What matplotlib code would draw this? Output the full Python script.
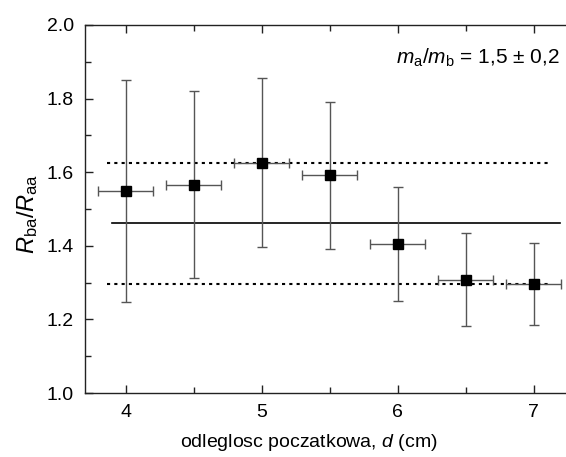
import matplotlib
matplotlib.use("Agg")
import matplotlib.pyplot as plt
from matplotlib.ticker import MultipleLocator

plt.rcParams['font.family'] = ['Liberation Sans', 'DejaVu Sans']
plt.rcParams['mathtext.fontset'] = 'custom'
plt.rcParams['mathtext.rm'] = 'Liberation Sans'
plt.rcParams['mathtext.it'] = 'Liberation Sans:italic'

# data
d = [4.0, 4.5, 5.0, 5.5, 6.0, 6.5, 7.0]
ratio = [1.548, 1.565, 1.626, 1.592, 1.405, 1.308, 1.296]
err_up = [1.850, 1.820, 1.855, 1.791, 1.561, 1.434, 1.408]
err_lo = [1.247, 1.312, 1.397, 1.392, 1.249, 1.183, 1.184]
d_err = [0.2, 0.2, 0.2, 0.2, 0.2, 0.2, 0.2]
mean_val = 1.461
band_hi = 1.624
band_lo = 1.297
mean_x = [3.90, 7.19]
band_x = [3.86, 7.12]

fig = plt.figure(figsize=(5.66, 4.57), dpi=100)
ax = fig.add_axes([0.150, 0.140, 0.865, 0.8053])

yerr = [[r - lo for r, lo in zip(ratio, err_lo)], [up - r for r, up in zip(ratio, err_up)]]
ax.plot(mean_x, [mean_val, mean_val], color='black', lw=1.2, zorder=1)
ax.plot(band_x, [band_hi, band_hi], color='black', lw=1.5, ls=(0, (1.5, 2.0)), zorder=1)
ax.plot(band_x, [band_lo, band_lo], color='black', lw=1.5, ls=(0, (1.5, 2.0)), zorder=1)
ax.errorbar(d, ratio, yerr=yerr, xerr=d_err, fmt='s', color='black', ms=7.5,
            ecolor='#555555', elinewidth=1.0, capsize=3.5, capthick=1.0, zorder=3)

ax.set_xlim(3.7, 7.3)
ax.set_ylim(1.0, 2.0)
ax.xaxis.set_major_locator(MultipleLocator(1))
ax.xaxis.set_minor_locator(MultipleLocator(0.5))
ax.yaxis.set_major_locator(MultipleLocator(0.2))
ax.yaxis.set_minor_locator(MultipleLocator(0.1))
ax.yaxis.set_major_formatter(matplotlib.ticker.FormatStrFormatter('%.1f'))
ax.tick_params(which='both', direction='in', top=True, right=False, labelsize=14, width=1.0, color='#222222')
ax.tick_params(which='major', length=6, pad=8)
ax.tick_params(which='minor', length=4)
ax.spines['right'].set_visible(False)
for s in ax.spines.values():
    s.set_linewidth(1.0)
    s.set_color('#222222')

ax.set_xlabel(r'odleglosc poczatkowa, $d$ (cm)', fontsize=14)
ax.xaxis.set_label_coords(0.457, -0.105)
ax.set_ylabel(r'$R_\mathrm{ba}/R_\mathrm{aa}$', fontsize=17)
ax.yaxis.set_label_coords(-0.092, 0.486)
fig.text(0.989, 0.873, r'$m_\mathrm{a}/m_\mathrm{b}$ = 1,5 ± 0,2', fontsize=15, ha='right', va='center')

fig.savefig('out.png', dpi=100)
